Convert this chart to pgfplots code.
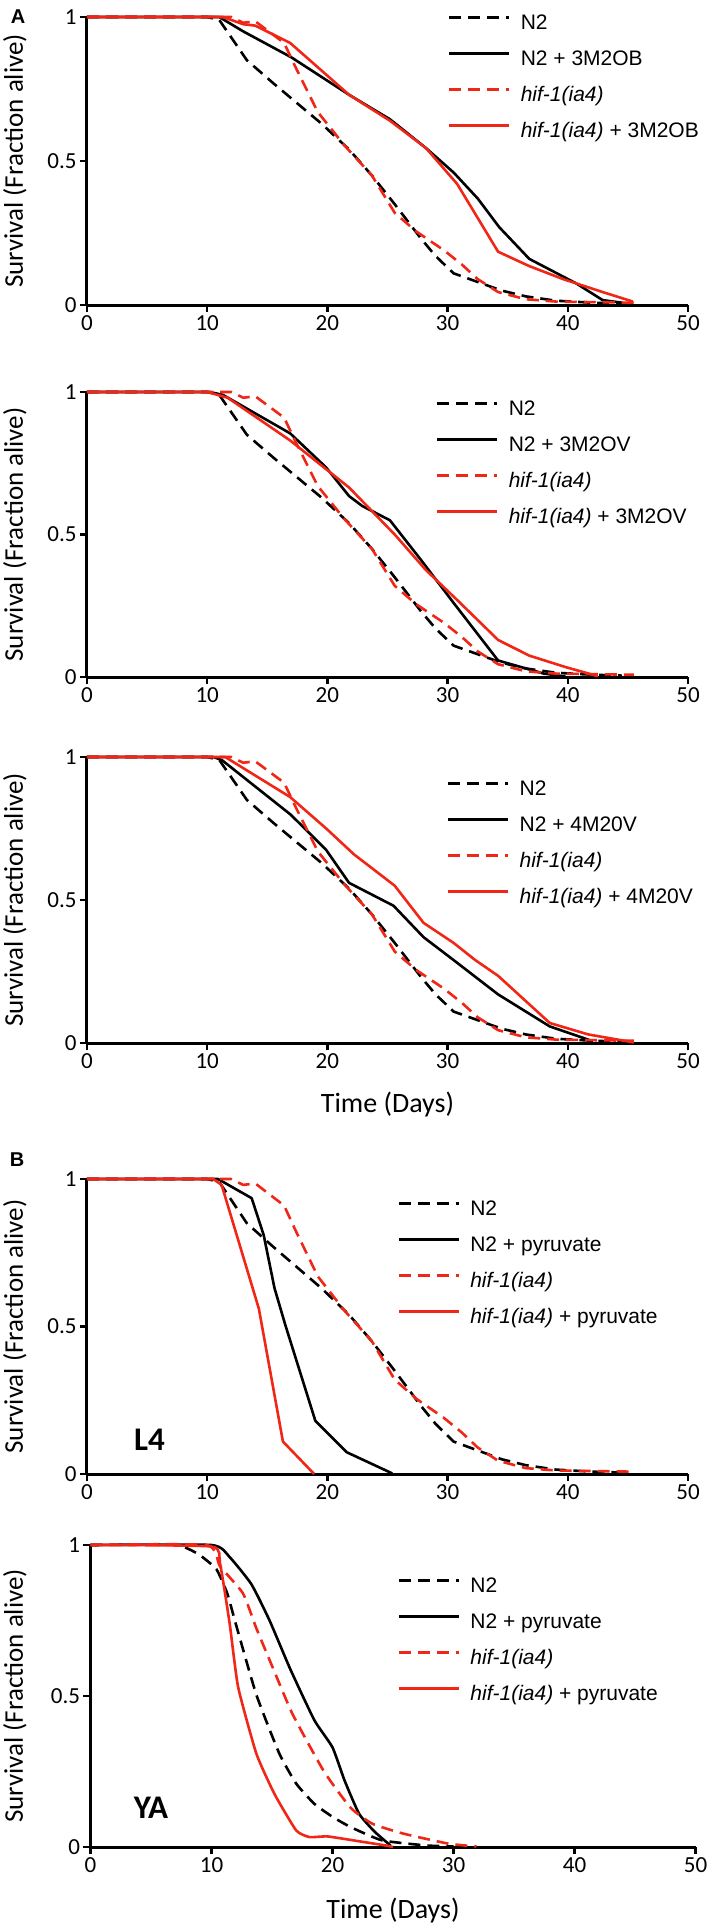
\documentclass[border=0pt]{standalone}
\usepackage{fontspec}
\setmainfont{Carlito}
\newfontfamily\legfont{Liberation Sans}
\usepackage{pgfplots}
\pgfplotsset{compat=1.18}
\definecolor{myred}{RGB}{240,38,22}

\pgfplotsset{
  surv/.style={
    scale only axis, xmin=0, xmax=50, ymin=0, ymax=1,
    axis x line*=bottom, axis y line*=left,
    axis line style={line width=3pt, black},
    xtick={0,10,20,30,40,50}, xticklabels={0,10,20,30,40,50},
    ytick={0,0.5,1}, yticklabels={0,0.5,1},
    tick align=outside, major tick length=7pt,
    tick style={black, line width=2.5pt},
    tick label style={font=\fontsize{23}{23}\selectfont},
    clip=false,
    ylabel={Survival (Fraction alive)},
    every axis y label/.style={at={(axis description cs:-0.12,0.5)}, rotate=90, anchor=center, font=\fontsize{27}{27}\selectfont},
    every axis x label/.style={at={(axis description cs:0.5,-0.215)}, anchor=center, font=\fontsize{28}{28}\selectfont},
    legend cell align=left,
    legend style={draw=none, fill=none, anchor=north west, inner sep=0pt, outer sep=0pt,
      font=\legfont\fontsize{21}{21}\selectfont, row sep=16pt, column sep=10pt,
      nodes={inner sep=0pt, text height=15pt, text depth=5pt}},
    legend image code/.code={\path (0pt,0pt); \draw[#1, line width=3.2pt] (0pt,7pt) -- (60pt,7pt);},
  },
  n2/.style={black, line width=2.6pt, line join=round, dash pattern=on 12pt off 7pt},
  n2t/.style={black, line width=2.6pt, line join=round},
  hif/.style={myred, line width=2.6pt, line join=round, dash pattern=on 12pt off 7pt},
  hift/.style={myred, line width=2.6pt, line join=round},
}

% controls shared by panels A and B (L4)
\pgfplotstableread{
x y
0 1
10 1
11 0.99
13.3 0.85
15.5 0.77
17.5 0.70
19.5 0.63
21.8 0.54
23.7 0.45
25.6 0.35
27.8 0.23
29 0.17
30.5 0.11
32.5 0.08
34.5 0.05
36.5 0.03
39 0.015
42 0.008
44.5 0.005
}\Ntwo
\pgfplotstableread{
x y
0 1
12 1
13 0.98
14 0.985
16.4 0.91
17.3 0.83
19.2 0.67
21.4 0.555
23.7 0.45
25.6 0.32
27.4 0.255
29.7 0.19
31.2 0.14
32.5 0.09
34.2 0.045
36.5 0.02
39 0.012
42 0.01
45.5 0.008
}\Hif

\begin{document}
\begin{tikzpicture}
\path[use as bounding box] (0pt,0pt) rectangle (709pt,-1925pt);

% ---- A, 3M2OB
\begin{axis}[surv, at={(87pt,-305pt)}, anchor=south west, width=601pt, height=288pt,
  legend style={at={(axis description cs:0.600,1.009)}}]
\addplot[n2] table {\Ntwo};
\addlegendentry{N2}
\addplot[n2t] coordinates {(0,1)(11,1)(13,0.95)(17,0.86)(21.8,0.73)(25.2,0.645)(28.2,0.545)(30.5,0.46)(32.5,0.37)(34.3,0.27)(36.8,0.16)(40.7,0.075)(42.9,0.017)(44.5,0.008)};
\addlegendentry{N2 + 3M2OB}
\addplot[hif] table {\Hif};
\addlegendentry{\textit{hif-1(ia4)}}
\addplot[hift] coordinates {(0,1)(11.3,1)(13,0.975)(14,0.97)(16.9,0.91)(21.8,0.73)(25.2,0.64)(28.2,0.545)(30.8,0.42)(34.2,0.185)(36.8,0.135)(39.6,0.09)(42.9,0.045)(45.4,0.012)};
\addlegendentry{\textit{hif-1(ia4)} + 3M2OB}
\end{axis}

% ---- A, 3M2OV
\begin{axis}[surv, at={(87pt,-677pt)}, anchor=south west, width=601pt, height=285pt,
  legend style={at={(axis description cs:0.580,0.970)}}]
\addplot[n2] table {\Ntwo};
\addlegendentry{N2}
\addplot[n2t] coordinates {(0,1)(10.2,1)(11.3,0.99)(16.9,0.855)(19.9,0.735)(21.8,0.635)(22.9,0.6)(25.2,0.55)(27.8,0.41)(30.5,0.26)(34.2,0.058)(38,0.012)(39.8,0.002)};
\addlegendentry{N2 + 3M2OV}
\addplot[hif] table {\Hif};
\addlegendentry{\textit{hif-1(ia4)}}
\addplot[hift] coordinates {(0,1)(10,1)(11.7,0.98)(16.9,0.83)(21.8,0.665)(25.6,0.5)(28.2,0.375)(30.8,0.27)(34.2,0.13)(36.8,0.075)(39.8,0.035)(42.5,0.003)};
\addlegendentry{\textit{hif-1(ia4)} + 3M2OV}
\end{axis}

% ---- A, 4M20V
\begin{axis}[surv, at={(87pt,-1043pt)}, anchor=south west, width=601pt, height=286pt,
  xlabel={Time (Days)},
  legend style={at={(axis description cs:0.598,0.918)}}]
\addplot[n2] table {\Ntwo};
\addlegendentry{N2}
\addplot[n2t] coordinates {(0,1)(10.5,1)(11.2,0.99)(16.9,0.80)(18,0.755)(19.9,0.675)(21.8,0.56)(25.5,0.48)(28,0.37)(30.5,0.29)(34.2,0.17)(38.5,0.058)(42.1,0.006)};
\addlegendentry{N2 + 4M20V}
\addplot[hif] table {\Hif};
\addlegendentry{\textit{hif-1(ia4)}}
\addplot[hift] coordinates {(0,1)(11.5,1)(16.9,0.86)(19.9,0.75)(22.2,0.66)(25.6,0.55)(28,0.42)(30.5,0.35)(32.3,0.29)(34.2,0.235)(38.5,0.07)(41.7,0.03)(45.5,0.002)};
\addlegendentry{\textit{hif-1(ia4)} + 4M20V}
\end{axis}

% ---- B, L4
\begin{axis}[surv, at={(87pt,-1474pt)}, anchor=south west, width=601pt, height=295pt,
  legend style={at={(axis description cs:0.516,0.927)}}]
\addplot[n2] table {\Ntwo};
\addlegendentry{N2}
\addplot[n2t] coordinates {(0,1)(10.9,1)(13.7,0.935)(14.7,0.81)(15.6,0.63)(16.5,0.505)(19,0.18)(21.6,0.074)(25.4,0.002)};
\addlegendentry{N2 + pyruvate}
\addplot[hif] table {\Hif};
\addlegendentry{\textit{hif-1(ia4)}}
\addplot[hift] coordinates {(0,1)(10.5,1)(11.2,0.98)(14.3,0.56)(16.3,0.11)(18.9,0)};
\addlegendentry{\textit{hif-1(ia4)} + pyruvate}
\node[font=\bfseries\fontsize{33}{33}\selectfont] at (axis cs:5.2,0.115) {L4};
\end{axis}

% ---- B, YA (smooth curves, many observations)
\begin{axis}[surv, at={(90.5pt,-1847pt)}, anchor=south west, width=605pt, height=302pt,
  xlabel={Time (Days)},
  every axis y label/.style={at={(axis description cs:-0.125,0.5)}, rotate=90, anchor=center, font=\fontsize{27}{27}\selectfont},
  every axis x label/.style={at={(axis description cs:0.5,-0.209)}, anchor=center, font=\fontsize{28}{28}\selectfont},
  legend style={at={(axis description cs:0.507,0.893)}}]
\addplot[n2, smooth, tension=0.3] coordinates {(0,1)(7,1)(8.9,0.97)(10.4,0.92)(11.3,0.84)(12,0.74)(13.7,0.505)(15.6,0.31)(17,0.21)(18.5,0.143)(20,0.1)(21.5,0.066)(24.1,0.022)(27.8,0.005)(30,0.002)};
\addlegendentry{N2}
\addplot[n2t, smooth, tension=0.3] coordinates {(0,1)(10,1)(11.5,0.96)(13.3,0.87)(14.8,0.75)(16.5,0.59)(18.5,0.42)(20,0.33)(21,0.22)(22.2,0.11)(23.5,0.05)(24.8,0.005)};
\addlegendentry{N2 + pyruvate}
\addplot[hif, smooth, tension=0.3] coordinates {(0,1)(9.6,1)(10.7,0.93)(12.6,0.84)(13.7,0.725)(15,0.6)(16.7,0.44)(19.3,0.25)(21.5,0.13)(23.3,0.077)(25.9,0.044)(29.6,0.011)(31.9,0.002)};
\addlegendentry{\textit{hif-1(ia4)}}
\addplot[hift, smooth, tension=0.3] coordinates {(0,1)(10,0.995)(10.7,0.94)(11.5,0.74)(12.2,0.53)(13.7,0.31)(15.2,0.176)(17,0.055)(18.1,0.033)(19.6,0.035)(22.2,0.019)(24.4,0.005)(25,0)};
\addlegendentry{\textit{hif-1(ia4)} + pyruvate}
\node[font=\bfseries\fontsize{33}{33}\selectfont] at (axis cs:5.0,0.13) {YA};
\end{axis}

\node[font=\legfont\bfseries\fontsize{20}{20}\selectfont] at (18pt,-17pt) {A};
\node[font=\legfont\bfseries\fontsize{20}{20}\selectfont] at (17pt,-1160pt) {B};
\end{tikzpicture}
\end{document}
